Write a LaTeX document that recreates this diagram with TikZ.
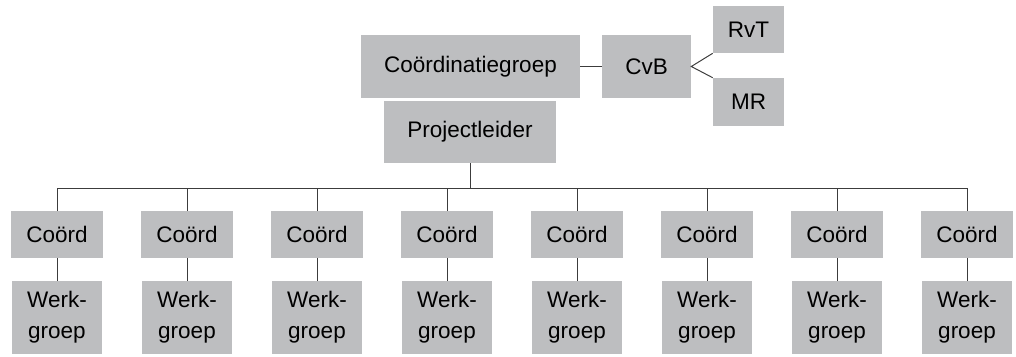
\documentclass[tikz,border=0pt]{standalone}
\usepackage{fontspec}
\setmainfont{Liberation Sans}
\usepackage{tikz}
\usetikzlibrary{positioning}
\definecolor{boxgrey}{RGB}{189,190,192}
\definecolor{linegrey}{RGB}{60,60,60}

\tikzset{
	org/.style={fill=boxgrey, inner sep=0pt, align=center, font=\fontsize{16}{22}\selectfont},
	coordbox/.style={org, minimum width=2.3cm, minimum height=1.175cm},
	werkbox/.style={org, minimum width=2.25cm, minimum height=1.825cm},
	verb/.style={draw=linegrey, line width=0.7pt}
}

\begin{document}
\begin{tikzpicture}[x=0.025cm, y=-0.025cm]
				\useasboundingbox (0,0) rectangle (1016,356);
				
				% top of the organisation
				\node[org, minimum width=5.475cm, minimum height=1.575cm] (groep) at (470.5,66.5) {Coördinatiegroep};
				\node[org, minimum width=2.225cm, minimum height=1.575cm] (cvb) at (646.5,66.5) {CvB};
				\node[org, minimum width=1.775cm, minimum height=1.175cm] (rvt) at (748.5,29.5) {RvT};
				\node[org, minimum width=1.775cm, minimum height=1.2cm] (mr) at (748.5,102) {MR};
				\node[org, minimum width=4.3cm, minimum height=1.55cm] (leider) at (470,132) {Projectleider};
				
				\path
				(470,188) coordinate (bus)
				(57,188) coordinate (busL)
				(967,188) coordinate (busR)
				;
				
				\draw[verb] (groep.east) -- (cvb.west);
				\draw[verb] (rvt.south west) -- (cvb.east) -- (mr.north west);
				\draw[verb] (leider.south) -- (bus);
				\draw[verb] (busL) -- (busR);
				
				% werkgroepen
				\foreach \i in {0,...,7}{
					\node[coordbox] (c\i) at (57+130*\i,234.5) {Coörd};
					\node[werkbox] (w\i) at (57+130*\i,317.5) {Werk-\\groep};
					\draw[verb] (c\i.north |- bus) -- (c\i.north);
					\draw[verb] (c\i) -- (w\i);
				}
				
\end{tikzpicture}
\end{document}
